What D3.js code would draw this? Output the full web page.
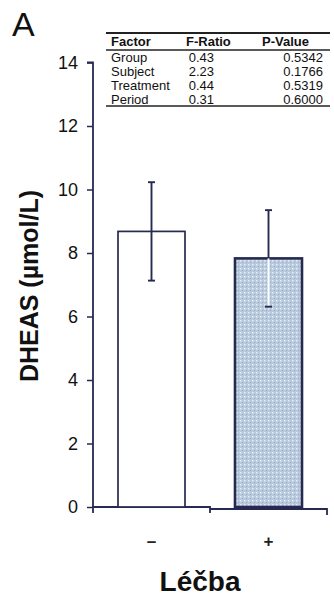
<!DOCTYPE html>
<html><head><meta charset="utf-8">
<script src="https://cdn.jsdelivr.net/npm/d3@7"></script>
<style>body{margin:0;background:#fff;}svg{display:block;font-family:Arial,"Liberation Sans",sans-serif;}</style>
</head><body>
<svg id="c" width="334" height="600"></svg>
<script>
const categories = ["–", "+"];
const means = [8.68, 7.83];
const errors = [1.55, 1.52];
const yTicks = [0, 2, 4, 6, 8, 10, 12, 14];
const tableFactors = ["Group", "Subject", "Treatment", "Period"];
const tableF = ["0.43", "2.23", "0.44", "0.31"];
const tableP = ["0.5342", "0.1766", "0.5319", "0.6000"];
const tableHead = ["Factor", "F-Ratio", "P-Value"];

const svg = d3.select("#c");
const ink = "#262a50";
const x = d3.scaleBand().domain(categories).range([93, 327]).paddingInner(0).paddingOuter(0);
const y = d3.scaleLinear().domain([0, 14]).range([507, 62.5]);
const bw = 67;

// pattern
const defs = svg.append("defs");
const pat = defs.append("pattern").attr("id","dots").attr("width",4).attr("height",4).attr("patternUnits","userSpaceOnUse");
pat.append("rect").attr("width",4).attr("height",4).attr("fill","#b9c9dd");
pat.append("rect").attr("x",0).attr("y",0).attr("width",1.5).attr("height",1.5).attr("fill","#e6edf5");
pat.append("rect").attr("x",2).attr("y",2).attr("width",1).attr("height",1).attr("fill","#94a9c4");

// letter
svg.append("text").attr("x",12).attr("y",36).attr("font-size",34).attr("fill","#111").text("A");

// y axis
const yAxis = d3.axisLeft(y).tickValues(yTicks).tickSize(6).tickPadding(9);
const ga = svg.append("g").attr("transform","translate(93,0)").call(yAxis);
ga.select(".domain").attr("stroke",ink).attr("stroke-width",1.8).attr("d","M-6,62.5H0V507");
ga.selectAll(".tick line").attr("stroke",ink).attr("stroke-width",1.5);
ga.selectAll(".tick text").attr("font-size",18).attr("fill","#111").attr("font-family","Arial, Liberation Sans, sans-serif");

// x axis
const xAxis = d3.axisBottom(x).tickSize(0).tickPadding(28);
const gx = svg.append("g").attr("transform","translate(0,507)").call(xAxis);
gx.select(".domain").remove();
gx.selectAll(".tick text").attr("font-size",17).attr("font-weight","bold").attr("fill","#222").attr("font-family","Arial, Liberation Sans, sans-serif");
const bounds = [x.range()[0], x(categories[1]), x.range()[1]];
svg.append("path").attr("fill","none").attr("stroke",ink).attr("stroke-width",1.8)
  .attr("d", `M${bounds[0]},513V507H${bounds[1]}V513M${bounds[1]},509H${bounds[2]}V515`);

// bars
const bars = svg.append("g");
categories.forEach((c,i)=>{
  const cx = x(c) + x.bandwidth()/2;
  bars.append("rect").attr("x",cx-bw/2).attr("y",y(means[i])).attr("width",bw).attr("height",y(0)-y(means[i]))
    .attr("fill", i===0 ? "#fff" : "url(#dots)").attr("stroke",ink).attr("stroke-width",i===0?1.7:2.6);
  const top = y(means[i]+errors[i]), bot = y(means[i]-errors[i]);
  bars.append("line").attr("x1",cx).attr("x2",cx).attr("y1",top).attr("y2",y(means[i])).attr("stroke",ink).attr("stroke-width",1.9);
  bars.append("line").attr("x1",cx).attr("x2",cx).attr("y1",y(means[i])).attr("y2",bot).attr("stroke",i===0?ink:"#fff").attr("stroke-width",1.9);
  bars.append("line").attr("x1",cx-3.5).attr("x2",cx+3.5).attr("y1",top).attr("y2",top).attr("stroke",ink).attr("stroke-width",1.9);
  bars.append("line").attr("x1",cx-3.5).attr("x2",cx+3.5).attr("y1",bot).attr("y2",bot).attr("stroke",ink).attr("stroke-width",1.9);
});

// axis titles
svg.append("text").attr("transform","translate(38,286) rotate(-90)").attr("text-anchor","middle")
  .attr("font-size",25).attr("font-weight","bold").attr("fill","#111").text("DHEAS (µmol/L)");
svg.append("text").attr("x",200).attr("y",591).attr("text-anchor","middle")
  .attr("font-size",28).attr("font-weight","bold").attr("fill","#111").text("Léčba");

// table
const tg = svg.append("g").attr("fill","#111").attr("font-size",13);
const tl = 106, tr = 330;
tg.append("line").attr("x1",tl).attr("x2",tr).attr("y1",33).attr("y2",33).attr("stroke","#222").attr("stroke-width",2.2);
tg.append("line").attr("x1",tl).attr("x2",tr).attr("y1",50).attr("y2",50).attr("stroke","#222").attr("stroke-width",1.3);
tg.append("line").attr("x1",tl).attr("x2",tr).attr("y1",106).attr("y2",106).attr("stroke","#222").attr("stroke-width",1.3);
const colX = [111, 186, 262];
tableHead.forEach((h,j)=>tg.append("text").attr("x",colX[j]).attr("y",46).attr("font-weight","bold").text(h));
const rowY = d3.scaleBand().domain(tableFactors).range([51, 106]);
tableFactors.forEach((f,i)=>{
  const yy = rowY(f) + rowY.bandwidth()/2 + 4.5;
  tg.append("text").attr("x",111).attr("y",yy).text(f);
  tg.append("text").attr("x",214).attr("y",yy).attr("text-anchor","end").text(tableF[i]);
  tg.append("text").attr("x",323).attr("y",yy).attr("text-anchor","end").text(tableP[i]);
});
</script>
</body></html>
